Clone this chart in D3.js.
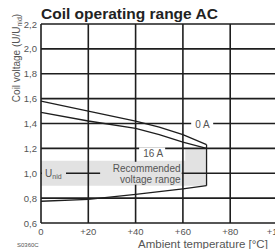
<!DOCTYPE html>
<html>
<head>
<meta charset="utf-8">
<script src="https://cdn.jsdelivr.net/npm/d3@7"></script>
<style>
  body { margin: 0; background: #fff; }
  svg { display: block; }
</style>
</head>
<body>
<script>
// DATA ––––––––––––––––––––––––––––––––––––––––––––––––––––––
var xTicks = [0, 20, 40, 60, 80, 100];
var xTickLabels = ["0", "+20", "+40", "+60", "+80", "+100"];
var yTicks = [0.6, 0.8, 1.0, 1.2, 1.4, 1.6, 1.8, 2.0, 2.2];
var yTickLabels = ["0,6", "0,8", "1,0", "1,2", "1,4", "1,6", "1,8", "2,0", "2,2"];

// upper limits (0 A and 16 A coil current), lower limit
var temp = [0, 20, 40, 50, 60, 70];
var upper0A = [1.58, 1.50, 1.42, 1.37, 1.31, 1.23];
var upper16A = [1.49, 1.42, 1.36, 1.31, 1.25, 1.20];
var lowerTemp = [0, 20, 40, 60, 70];
var lower = [0.775, 0.79, 0.83, 0.875, 0.90];

// recommended voltage range (grey area)
var recTemp = [0, 61, 61, 70, 70, 0];
var recVolt = [1.1, 1.1, 1.2, 1.2, 0.9, 0.9];

// CHART ––––––––––––––––––––––––––––––––––––––––––––––––––––––
var width = 275, height = 249;

var svg = d3.select("body").append("svg")
    .attr("width", width)
    .attr("height", height);

var x = d3.scaleLinear().domain([0, 100]).range([41, 277.5]);
var y = d3.scaleLinear().domain([0.6, 2.2]).range([223, 24]);

var ink = "#1e1e1e";

// grey area
svg.append("path")
    .datum(recTemp.map(function(t, i) { return [t, recVolt[i]]; }))
    .attr("fill", "#e2e2e2")
    .attr("d", d3.line().x(function(d) { return x(d[0]); }).y(function(d) { return y(d[1]); }));

// grid
svg.append("g")
  .selectAll("line.h")
  .data(yTicks)
  .join("line")
    .attr("x1", x(0)).attr("x2", x(100))
    .attr("y1", function(d) { return y(d); })
    .attr("y2", function(d) { return y(d); })
    .attr("stroke", ink)
    .attr("stroke-width", 1.6);

svg.append("g")
  .selectAll("line.v")
  .data(xTicks)
  .join("line")
    .attr("x1", function(d) { return x(d); })
    .attr("x2", function(d) { return x(d); })
    .attr("y1", y(2.2)).attr("y2", y(0.6))
    .attr("stroke", ink)
    .attr("stroke-width", 1.6);

// curves
var line = d3.line()
    .x(function(d) { return x(d[0]); })
    .y(function(d) { return y(d[1]); });

var pairs = function(xs, ys) {
  return xs.map(function(t, i) { return [t, ys[i]]; });
};

var curves = [
  pairs(temp, upper0A),
  pairs(temp, upper16A),
  pairs(lowerTemp, lower),
  [[70, upper0A[upper0A.length - 1]], [70, lower[lower.length - 1]]]
];

curves.forEach(function(c) {
  svg.append("path")
    .datum(c)
    .attr("fill", "none")
    .attr("stroke", ink)
    .attr("stroke-width", 1.3)
    .attr("d", line);
});

// labels with backgrounds
var boxLabel = function(cx, cy, w, h, fill) {
  svg.append("rect")
    .attr("x", cx).attr("y", cy)
    .attr("width", w).attr("height", h)
    .attr("fill", fill);
};

var labelFont = "'Liberation Sans Narrow', 'Liberation Sans', Arial, sans-serif";
var labelColor = "#555";

boxLabel(x(63.5), y(1.4) - 5, 22, 10, "#fff");
svg.append("text")
    .attr("x", x(63.5) + 4).attr("y", y(1.4) + 4)
    .attr("font-family", labelFont).attr("font-size", 10)
    .attr("fill", labelColor)
    .text("0 A");

boxLabel(x(41.5), y(1.2) - 1, 26, 11, "#fff");
svg.append("text")
    .attr("x", x(41.5) + 4).attr("y", y(1.2) + 9)
    .attr("font-family", labelFont).attr("font-size", 10)
    .attr("fill", labelColor)
    .text("16 A");

boxLabel(x(25), y(1.1) + 1, x(59.5) - x(25), y(0.9) - y(1.1) - 2, "#e2e2e2");
svg.append("text")
    .attr("x", x(59)).attr("y", y(1.0) - 1)
    .attr("text-anchor", "end")
    .attr("font-family", labelFont).attr("font-size", 10)
    .attr("fill", labelColor)
    .text("Recommended");
svg.append("text")
    .attr("x", x(59)).attr("y", y(1.0) + 10)
    .attr("text-anchor", "end")
    .attr("font-family", labelFont).attr("font-size", 10)
    .attr("fill", labelColor)
    .text("voltage range");

boxLabel(x(0) + 1, y(1.1) + 1, 24, y(0.9) - y(1.1) - 2, "#e2e2e2");
var un = svg.append("text")
    .attr("x", x(0) + 4).attr("y", y(1.0) + 4)
    .attr("font-family", labelFont).attr("font-size", 10)
    .attr("fill", labelColor);
un.append("tspan").text("U");
un.append("tspan").attr("font-size", 7).attr("dy", 2).text("nid");

// tick labels
svg.append("g")
  .selectAll("text")
  .data(yTicks)
  .join("text")
    .attr("x", 37)
    .attr("y", function(d) { return y(d) + 3.5; })
    .attr("text-anchor", "end")
    .attr("font-family", labelFont).attr("font-size", 9.5)
    .attr("fill", labelColor)
    .text(function(d, i) { return yTickLabels[i]; });

svg.append("g")
  .selectAll("text")
  .data(xTicks)
  .join("text")
    .attr("x", function(d) { return x(d); })
    .attr("y", 235)
    .attr("text-anchor", "middle")
    .attr("font-family", labelFont).attr("font-size", 9.5)
    .attr("fill", labelColor)
    .text(function(d, i) { return xTickLabels[i]; });

// titles
svg.append("text")
    .attr("x", 41).attr("y", 19)
    .attr("font-family", "'Liberation Sans', Arial, sans-serif")
    .attr("font-weight", "bold")
    .attr("font-size", 15.5)
    .attr("fill", "#222")
    .text("Coil operating range AC");

svg.append("text")
    .attr("x", 138).attr("y", 248)
    .attr("font-family", "'Liberation Sans', Arial, sans-serif")
    .attr("font-size", 11.5)
    .attr("fill", labelColor)
    .text("Ambient temperature [°C]");

var yt = svg.append("text")
    .attr("transform", "translate(20,58) rotate(-90)")
    .attr("text-anchor", "middle")
    .attr("font-family", labelFont).attr("font-size", 10)
    .attr("fill", labelColor);
yt.append("tspan").text("Coil voltage (U/U");
yt.append("tspan").attr("font-size", 7).attr("dy", 2).text("nid");
yt.append("tspan").attr("dy", -2).text(")");

svg.append("text")
    .attr("x", 17).attr("y", 247)
    .attr("font-family", labelFont).attr("font-size", 6)
    .attr("fill", labelColor)
    .text("S0360C");
</script>
</body>
</html>
